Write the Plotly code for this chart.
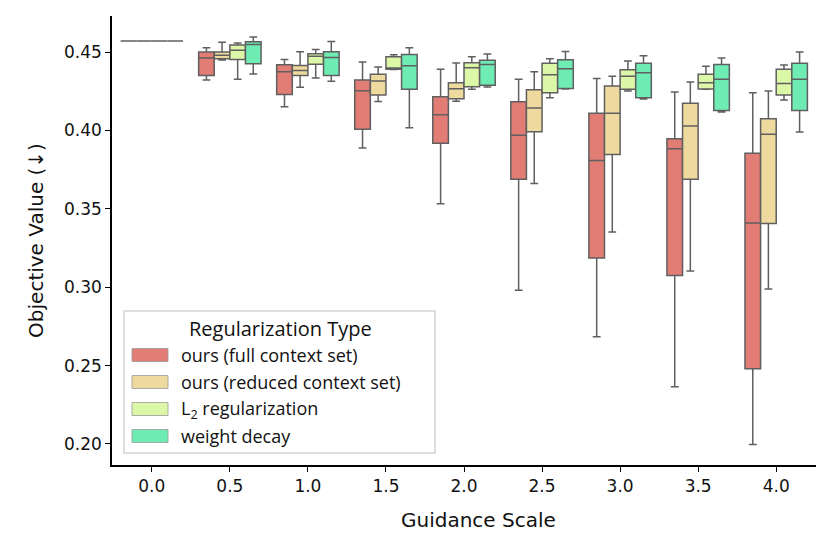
import plotly.graph_objects as go

guidance = ["0.0", "0.5", "1.0", "1.5", "2.0", "2.5", "3.0", "3.5", "4.0"]

series_names = ["ours (full context set)", "ours (reduced context set)",
                "L<sub>2</sub> regularization", "weight decay"]
colors = ["#E27D76", "#EEDA9F", "#DDF7A8", "#6FEBB4"]
legend_title = "Regularization Type"
x_title = "Guidance Scale"
y_title = "Objective Value (↓)"

# five-number summaries per series: lower whisker, q1, median, q3, upper whisker
full_low = [0.457, 0.4321, 0.4151, 0.3888, 0.3532, 0.2980, 0.2684, 0.2365, 0.1997]
full_q1 = [0.457, 0.4351, 0.4230, 0.4007, 0.3919, 0.3688, 0.3186, 0.3075, 0.2480]
full_med = [0.457, 0.4462, 0.4374, 0.4253, 0.4100, 0.3969, 0.3809, 0.3883, 0.3409]
full_q3 = [0.457, 0.4500, 0.4419, 0.4321, 0.4215, 0.4183, 0.4109, 0.3947, 0.3854]
full_high = [0.457, 0.4527, 0.4453, 0.4436, 0.4390, 0.4326, 0.4332, 0.4245, 0.4240]

red_low = [0.457, 0.4449, 0.4275, 0.4185, 0.4187, 0.3662, 0.3353, 0.3103, 0.2988]
red_q1 = [0.457, 0.4457, 0.4351, 0.4226, 0.4202, 0.3992, 0.3847, 0.3688, 0.3407]
red_med = [0.457, 0.4479, 0.4383, 0.4315, 0.4266, 0.4143, 0.4109, 0.4028, 0.3975]
red_q3 = [0.457, 0.4500, 0.4415, 0.4358, 0.4304, 0.4260, 0.4283, 0.4173, 0.4074]
red_high = [0.457, 0.4562, 0.4502, 0.4404, 0.4430, 0.4374, 0.4345, 0.4309, 0.4251]

l2_low = [0.457, 0.4326, 0.4334, 0.4389, 0.4262, 0.4208, 0.4251, 0.4262, 0.4194]
l2_q1 = [0.457, 0.4453, 0.4423, 0.4390, 0.4279, 0.4240, 0.4262, 0.4264, 0.4226]
l2_med = [0.457, 0.4511, 0.4473, 0.4398, 0.4400, 0.4355, 0.4345, 0.4304, 0.4300]
l2_q3 = [0.457, 0.4545, 0.4489, 0.4470, 0.4432, 0.4428, 0.4387, 0.4358, 0.4390]
l2_high = [0.457, 0.4557, 0.4517, 0.4483, 0.4470, 0.4457, 0.4443, 0.4409, 0.4417]

wd_low = [0.457, 0.4360, 0.4313, 0.4017, 0.4277, 0.4264, 0.4200, 0.4117, 0.3990]
wd_q1 = [0.457, 0.4425, 0.4351, 0.4262, 0.4288, 0.4268, 0.4208, 0.4128, 0.4128]
wd_med = [0.457, 0.4549, 0.4466, 0.4413, 0.4421, 0.4394, 0.4368, 0.4326, 0.4326]
wd_q3 = [0.457, 0.4566, 0.4502, 0.4485, 0.4447, 0.4451, 0.4428, 0.4421, 0.4428]
wd_high = [0.457, 0.4596, 0.4568, 0.4527, 0.4487, 0.4504, 0.4477, 0.4462, 0.4500]

stats = [
    (full_low, full_q1, full_med, full_q3, full_high),
    (red_low, red_q1, red_med, red_q3, red_high),
    (l2_low, l2_q1, l2_med, l2_q3, l2_high),
    (wd_low, wd_q1, wd_med, wd_q3, wd_high),
]

xpos = list(range(len(guidance)))

W, H = 831, 548
OFF = 7  # page offset of the figure inside the browser window
# target plot area on screen
SX0, SX1, SY0, SY1 = 111, 815, 15, 464
ML, MT = SX0 - OFF, SY0 - OFF
MR = W - (SX1 - OFF)
MB = H - (SY1 - OFF)
PW, PH = SX1 - SX0, SY1 - SY0

def px_x(p):
    return (p - SX0) / PW

def px_y(p):
    return (SY1 - p) / PH

fig = go.Figure()
for name, col, (lo, q1, med, q3, hi) in zip(series_names, colors, stats):
    fig.add_trace(go.Box(
        x=xpos, lowerfence=lo, q1=q1, median=med, q3=q3, upperfence=hi,
        name=name, fillcolor=col, boxpoints=False,
        line=dict(color="#5f5f5f", width=1.5), whiskerwidth=0.5,
        offsetgroup=name, showlegend=False,
    ))

# manual legend (seaborn-style wide patches)
shapes = [dict(type="rect", xref="paper", yref="paper",
               x0=px_x(123), x1=px_x(434), y0=px_y(452), y1=px_y(310),
               line=dict(color="#d4d4d4", width=1.5), fillcolor="rgba(255,255,255,0.9)",
               layer="above")]
annotations = [dict(text=legend_title, xref="paper", yref="paper",
                    x=px_x(279), y=px_y(327), xanchor="center", yanchor="middle",
                    showarrow=False, font=dict(family="Open Sans", size=20, color="#111111"))]
item_centers = [354, 381, 408, 435]
for name, col, cy in zip(series_names, colors, item_centers):
    shapes.append(dict(type="rect", xref="paper", yref="paper",
                       x0=px_x(131), x1=px_x(167), y0=px_y(cy + 6.5), y1=px_y(cy - 6.5),
                       line=dict(color="#9a9a9a", width=0.8), fillcolor=col, layer="above"))
    annotations.append(dict(text=name, xref="paper", yref="paper",
                            x=px_x(178), y=px_y(cy), xanchor="left", yanchor="middle",
                            showarrow=False,
                            font=dict(family="Open Sans", size=18, color="#111111")))

axis_font = dict(family="DejaVu Sans", size=17, color="#111111")
title_font = dict(family="DejaVu Sans", size=20, color="#111111")

# x-axis label (placed as in the reference, slightly right of centre)
annotations.append(dict(text=x_title, xref="paper", yref="paper",
                        x=px_x(477.5), y=px_y(519), xanchor="center", yanchor="middle",
                        showarrow=False, font=title_font))

fig.update_layout(
    width=W, height=H,
    margin=dict(l=ML, r=MR, t=MT, b=MB),
    paper_bgcolor="white", plot_bgcolor="white",
    boxmode="group", boxgap=0.2, boxgroupgap=0.0,
    showlegend=False,
    shapes=shapes, annotations=annotations,
    xaxis=dict(
        range=[-0.51, 8.51], tickmode="array", tickvals=xpos, ticktext=guidance,
        showline=True, linecolor="black", linewidth=1.5, mirror=False,
        ticks="outside", ticklen=5, tickwidth=1.2, tickcolor="black",
        showgrid=False, zeroline=False, tickfont=axis_font, automargin=False,
    ),
    yaxis=dict(
        range=[0.1866, 0.4730], tickmode="array",
        tickvals=[0.20, 0.25, 0.30, 0.35, 0.40, 0.45],
        ticktext=["0.20", "0.25", "0.30", "0.35", "0.40", "0.45"],
        showline=True, linecolor="black", linewidth=1.5,
        ticks="outside", ticklen=5, tickwidth=1.2, tickcolor="black",
        showgrid=False, zeroline=False, tickfont=axis_font, automargin=False,
        title=dict(text=y_title, font=title_font, standoff=15),
    ),
)

fig.write_html("out.html")
